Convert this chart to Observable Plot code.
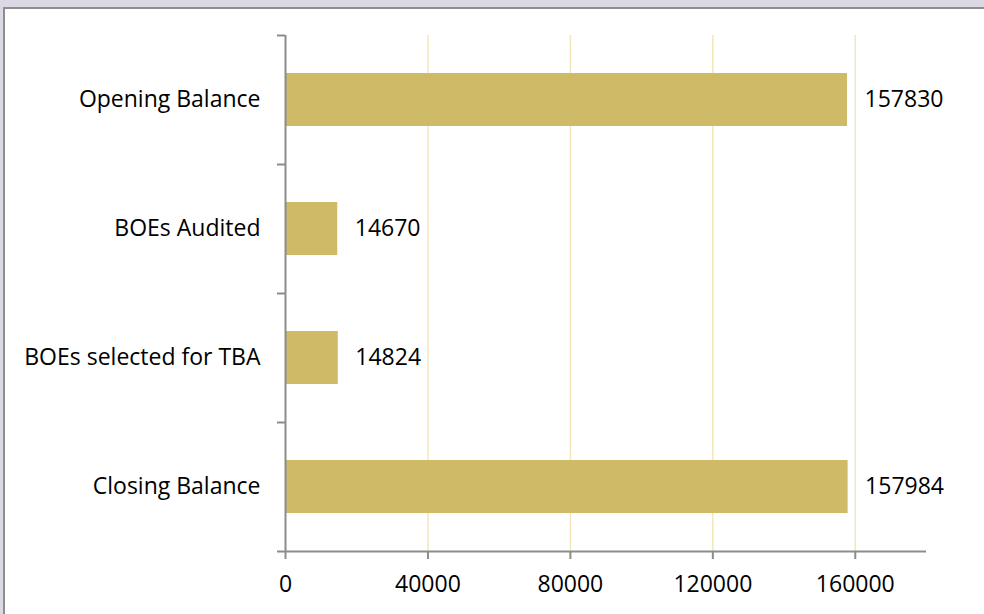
<!DOCTYPE html>
<html>
<head>
<meta charset="utf-8">
<script src="https://cdn.jsdelivr.net/npm/d3@7"></script>
<script src="https://cdn.jsdelivr.net/npm/@observablehq/plot@0.6"></script>
<style>
  html, body { margin: 0; padding: 0; background: #dcd8e4; overflow: hidden; }
  body { width: 984px; height: 614px; position: relative; }
  #frame { position: absolute; left: 3px; top: 7px; right: 0; bottom: 0; background: #fff; border-top: 2px solid #8e8e8e; border-left: 2px solid #8e8e8e; }
  #chart { position: absolute; left: 0; top: 0; }
  svg { font-family: "Open Sans", sans-serif; }
</style>
</head>
<body>
<div id="frame"></div>
<div id="chart"></div>
<script>
const categories = ["Opening Balance", "BOEs Audited", "BOEs selected for TBA", "Closing Balance"];
const values = [157830, 14670, 14824, 157984];
const xTicks = [0, 40000, 80000, 120000, 160000];
const gridTicks = [40000, 80000, 120000, 160000];

const data = categories.map((c, i) => ({category: c, value: values[i]}));
const step = (551 - 35) / categories.length;
const axisColor = "#8c8c8c";

const chart = Plot.plot({
  width: 984,
  height: 614,
  marginLeft: 285,
  marginRight: 58,
  marginTop: 35,
  marginBottom: 63,
  style: {fontSize: "23px", fontFamily: "'Open Sans', sans-serif", background: "transparent", color: "#000"},
  x: {domain: [0, 180000]},
  y: {domain: categories, padding: 0},
  marks: [
    Plot.ruleX(gridTicks, {stroke: "#f3e7b9", strokeWidth: 1.5}),
    Plot.barX(data, {y: "category", x: "value", fill: "#cfba68", insetTop: 38, insetBottom: 38}),
    Plot.text(data, {y: "category", x: "value", text: d => String(d.value), textAnchor: "start", dx: 17, fill: "#000", fontSize: 23}),
    Plot.ruleX([0], {stroke: axisColor, strokeWidth: 2}),
    Plot.ruleY(categories, {y: d => d, x1: 0, x2: 0, insetLeft: -8, dy: -step / 2, stroke: axisColor, strokeWidth: 2}),
    Plot.ruleY([categories[categories.length - 1]], {y: d => d, x1: 0, x2: 180000, insetLeft: -8, dy: step / 2, stroke: axisColor, strokeWidth: 2}),
    Plot.axisX({ticks: xTicks, tickSize: 8, tickPadding: 16, tickFormat: d => String(d), stroke: axisColor, strokeWidth: 2, fill: "#000", label: null}),
    Plot.axisY({tickSize: 0, tickPadding: 25, fill: "#000", label: null})
  ]
});
document.getElementById("chart").append(chart);
</script>
</body>
</html>
